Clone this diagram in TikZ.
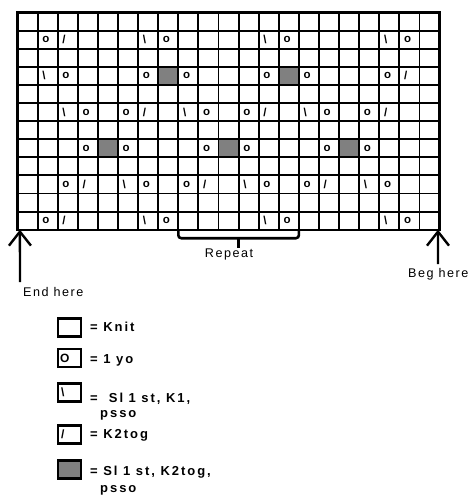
\documentclass[tikz,border=0pt]{standalone}
\usepackage{fontspec}
\setmainfont{Liberation Sans}
\newfontfamily\spacedfont{Liberation Sans}[LetterSpace=12]
\newfontfamily\keyfont{Liberation Sans}[LetterSpace=15]
\usetikzlibrary{arrows.meta}

\definecolor{decfill}{RGB}{128,128,128}
\tikzstyle{gridline} = [line width=1.9pt]
\tikzstyle{stitch} = [anchor=west,inner sep=0pt,xshift=4.5pt,font=\bfseries\fontsize{11.5}{11.5}\selectfont]
\tikzstyle{keybox} = [rectangle,draw,line width=2.3pt,minimum width=23pt,minimum height=18pt,inner sep=0pt]
\tikzstyle{keysym} = [anchor=west,inner sep=0pt,font=\bfseries\fontsize{12}{12}\selectfont]
\tikzstyle{keytext} = [anchor=base west,inner sep=0pt,font=\keyfont\bfseries\fontsize{13}{15}\selectfont]
\tikzstyle{note} = [inner sep=0pt,font=\spacedfont\fontsize{12.6}{15}\selectfont]
\tikzstyle{pointer} = [line width=2.4pt,-{Straight Barb[length=14pt,width=22pt]}]
\tikzstyle{bracket} = [line width=2.6pt,rounded corners=3pt]

\begin{document}
\begin{tikzpicture}[x=1pt,y=-1pt]
    \useasboundingbox (0,0) rectangle (472,495);
    % chart
    \begin{scope}[shift={(17.5,12.5)},x=20.1pt,y=-18.1pt]
	\foreach \col/\row in {7/3,13/3,4/7,10/7,16/7}
	{\fill[decfill] (\col,\row) rectangle ++(1,1);}
	\foreach \col in {0,...,21}
	{\draw[gridline] (\col,0) -- (\col,12);}
	\foreach \row in {0,...,12}
	{\draw[gridline] (0,\row) -- (21,\row);}
	\draw[line width=2.3pt] (0,0) rectangle (21,12);
	\foreach \col/\row in {1/1,7/1,13/1,19/1,2/3,6/3,8/3,12/3,14/3,18/3,
	  3/5,5/5,9/5,11/5,15/5,17/5,3/7,5/7,9/7,11/7,15/7,17/7,
	  2/9,6/9,8/9,12/9,14/9,18/9,1/11,7/11,13/11,19/11}
	{\node[stitch] (yo\col-\row) at (\col,\row+0.5) {o};}
	\foreach \col/\row in {2/1,19/3,6/5,12/5,18/5,3/9,9/9,15/9,2/11}
	{\node[stitch] (kt\col-\row) at (\col,\row+0.5) {/};}
	\foreach \col/\row in {6/1,12/1,18/1,1/3,2/5,8/5,14/5,5/9,11/9,17/9,6/11,12/11,18/11}
	{\node[stitch] (sk\col-\row) at (\col,\row+0.5) {\textbackslash};}
	\coordinate (repL) at (8,12);
	\coordinate (repM) at (11,12);
	\coordinate (repR) at (14,12);
	\coordinate (endtip) at (0.12,12);
	\coordinate (begtip) at (20.92,12);
    \end{scope}
    % repeat bracket and arrows
    \node[note] (repeat) at (229,254) {Repeat};
    \draw[bracket] (repL) -- ([yshift=-8.5pt]repL) -- ([yshift=-8.5pt]repR) -- (repR);
    \draw[bracket] ([yshift=-8.5pt]repM) -- (repM |- repeat.north);
    \coordinate (endfoot) at (20,282);
    \coordinate (begfoot) at (438,264);
    \draw[pointer] (endfoot) -- (endtip);
    \draw[pointer] (begfoot) -- (begtip);
    \node[note,anchor=base west] (endlbl) at (23,296) {End here};
    \node[note,anchor=base west] (beglbl) at (408,277) {Beg here};
    % key
    \node[keybox] (knitkey) at (69.5,327.5) {};
    \node[keytext] (knittxt) at (90,331.7) {= Knit};
    \node[keybox] (yokey) at (69.5,358) {};
    \node[keysym] (yosym) at ([xshift=3pt]yokey.west) {O};
    \node[keytext] (yotxt) at (90,363.5) {= 1 yo};
    \node[keybox] (sskkey) at (69.5,392.5) {};
    \node[keysym] (ssksym) at ([xshift=4pt]sskkey.west) {\textbackslash};
    \node[keytext] (ssktxt) at (90,402) {=\ \ Sl 1 st, K1,};
    \node[keytext] (ssktxtb) at (100,417) {psso};
    \node[keybox] (ktkey) at (69.5,434.5) {};
    \node[keysym] (ktsym) at ([xshift=4pt]ktkey.west) {/};
    \node[keytext] (kttxt) at (90,438) {= K2tog};
    \node[keybox,fill=decfill] (dblkey) at (69.5,469.5) {};
    \node[keytext] (dbltxt) at (90,475) {= Sl 1 st, K2tog,};
    \node[keytext] (dbltxtb) at (100,492) {psso};
\end{tikzpicture}
\end{document}
